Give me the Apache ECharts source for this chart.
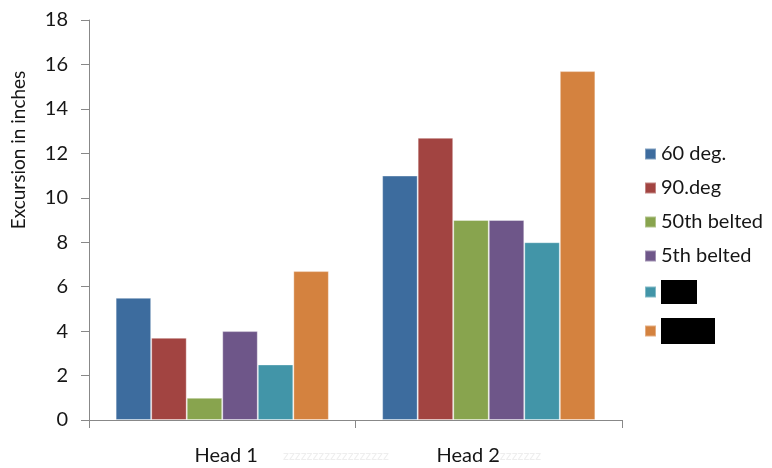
<!DOCTYPE html>
<html><head><meta charset="utf-8">
<script src="https://cdn.jsdelivr.net/npm/echarts@6/dist/echarts.min.js"></script>
<style>html,body{margin:0;padding:0;background:#fff}#c{width:772px;height:468px}</style>
</head><body><div id="c"></div>
<script>
const categories = ['Head 1', 'Head 2'];
const seriesNames = ['60 deg.', '90.deg', '50th belted', '5th belted', 'Redacted 1', 'Redacted 2'];
const s60 = [5.5, 11.0];
const s90 = [3.7, 12.7];
const s50th = [1.0, 9.0];
const s5th = [4.0, 9.0];
const sRed1 = [2.5, 8.0];
const sRed2 = [6.7, 15.7];
const yTicks = [0, 2, 4, 6, 8, 10, 12, 14, 16, 18];
const yAxisTitle = 'Excursion in inches';
const colors = ['#3D6C9E', '#A24441', '#88A44E', '#6E5689', '#4295A8', '#D4823F'];
const values = [s60, s90, s50th, s5th, sRed1, sRed2];
const font = 'Lato, "Open Sans", sans-serif';
const txt = '#161616';

const chart = echarts.init(document.getElementById('c'), null, {renderer: 'canvas'});
chart.setOption({
  animation: false,
  color: colors,
  textStyle: {fontFamily: font},
  grid: {left: 89, top: 20, right: 150, bottom: 48},
  legend: {
    orient: 'vertical', left: 639, top: 139, itemWidth: 11, itemHeight: 11, itemGap: 14,
    icon: 'rect',
    textStyle: {fontSize: 20, color: txt, fontFamily: font},
    data: seriesNames.map((n, i) => i < 4 ? {name: n} : {
      name: n,
      textStyle: {color: '#000', backgroundColor: '#000', width: i === 4 ? 36 : 54, height: i === 4 ? 24 : 26, overflow: 'truncate', padding: 0}
    })
  },
  xAxis: {
    type: 'category', data: categories,
    axisLine: {lineStyle: {color: '#888'}},
    axisTick: {show: true, alignWithLabel: false, length: 8, lineStyle: {color: '#888'}},
    axisLabel: {
      fontSize: 20, color: txt, margin: 26, fontFamily: font,
      formatter: v => v === 'Head 2' ? v + '{z|zzzzzzz}' : '{a|' + v + '}',
      rich: {
        z: {color: '#eeeeee', fontSize: 13, fontFamily: font},
        a: {fontSize: 20, color: txt, fontFamily: font, padding: [0, 0, 0, 8]}
      }
    }
  },
  yAxis: {
    type: 'value', min: 0, max: 18, interval: 2,
    axisLine: {show: true, lineStyle: {color: '#888'}},
    axisTick: {show: true, length: 8, lineStyle: {color: '#888'}},
    splitLine: {show: false},
    axisLabel: {fontSize: 20, color: txt, margin: 21, fontFamily: font,
      formatter: v => yTicks.includes(v) ? String(v) : ''}
  },
  graphic: [{
    type: 'text', x: 19, y: 150, rotation: Math.PI / 2,
    style: {text: yAxisTitle, fill: txt, fontSize: 19, fontFamily: font, align: 'center', verticalAlign: 'middle'}
  }, {
    type: 'text', left: 283, top: 449,
    style: {text: 'zzzzzzzzzzzzzzzzzz', fill: '#eeeeee', fontSize: 13, fontFamily: font}
  }],
  series: seriesNames.map((n, i) => ({
    name: n, type: 'bar', data: values[i],
    barGap: '0%', barCategoryGap: '20%',
    itemStyle: {color: colors[i], borderColor: 'rgba(255,255,255,0.35)', borderWidth: 1}
  }))
});
</script></body></html>
